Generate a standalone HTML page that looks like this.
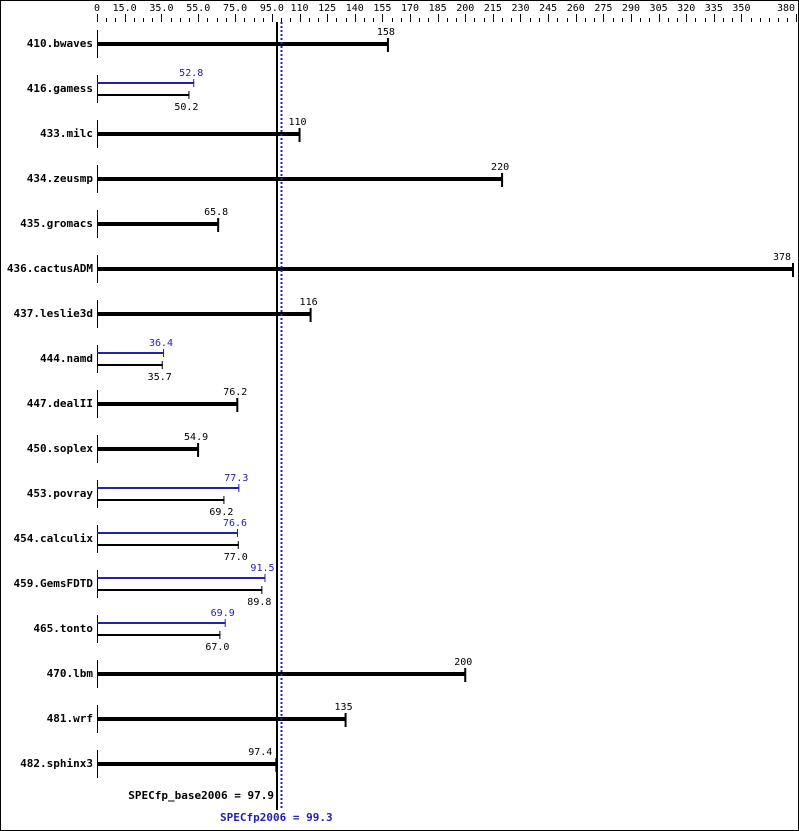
<!DOCTYPE html>
<html><head><meta charset="utf-8"><style>
html,body{margin:0;padding:0;background:#fff}
svg{display:block}
text{font-family:"DejaVu Sans Mono","Liberation Mono",monospace;font-size:10px}
.lab{font-weight:bold;font-size:11px}
</style></head><body>
<svg id="s" width="799" height="831" xmlns="http://www.w3.org/2000/svg">
<rect x="0.5" y="0.5" width="798" height="830" fill="#fff" stroke="#000"/>
</svg>
<script>
const s=document.getElementById('s');const NS='http://www.w3.org/2000/svg';
function el(t,a,txt){const e=document.createElementNS(NS,t);for(const k in a)e.setAttribute(k,a[k]);if(txt!=null)e.textContent=txt;s.appendChild(e);return e;}
const X=v=>97+v*696/378;
for(let v=0;v<=380;v+=5){const x=Math.min(Math.round(X(v)),796)+0.5;el('line',{x1:x,y1:18,x2:x,y2:22,stroke:'#000'});}
const labs=[0,15,35,55,75,95,110,125,140,155,170,185,200,215,230,245,260,275,290,305,320,335,350,380];
labs.forEach(v=>{const x=Math.min(Math.round(X(v)),796)+0.5;el('line',{x1:x,y1:14,x2:x,y2:22,stroke:'#000'});
 const t=v<100?v.toFixed(1):String(v);
 if(v===380) el('text',{x:795,y:11,'text-anchor':'end'},t);
 else el('text',{x:X(v),y:11,'text-anchor':'middle'},v===0?'0':t);});
const rows=[["410.bwaves",158],["416.gamess",50.2,52.8],["433.milc",110],["434.zeusmp",220],["435.gromacs",65.8],["436.cactusADM",378],["437.leslie3d",116],["444.namd",35.7,36.4],["447.dealII",76.2],["450.soplex",54.9],["453.povray",69.2,77.3],["454.calculix",77.0,76.6],["459.GemsFDTD",89.8,91.5],["465.tonto",67.0,69.9],["470.lbm",200],["481.wrf",135],["482.sphinx3",97.4]];
const fmt=v=>v>=100?String(Math.round(v)):v.toFixed(1);
rows.forEach((r,i)=>{const y=43+i*45;
 el('text',{x:93,y:y+4,'text-anchor':'end',class:'lab'},r[0]);
 el('line',{x1:97.5,y1:y-13,x2:97.5,y2:y+15,stroke:'#000'});
 if(r.length===2){const xe=X(r[1]);
  el('rect',{x:97,y:y-1,width:xe-97,height:4,fill:'#000'});
  el('rect',{x:xe-1,y:y-5,width:2,height:14,fill:'#000'});
  if(r[1]>300) el('text',{x:xe-2,y:y-8,'text-anchor':'end'},fmt(r[1]));
  else if(r[1]<100 && r[1]>95) el('text',{x:xe-4,y:y-8,'text-anchor':'end'},fmt(r[1]));
  else el('text',{x:xe-2,y:y-8,'text-anchor':'middle'},fmt(r[1]));
 } else {const xb=X(r[1]),xp=X(r[2]);
  el('rect',{x:97,y:y-6,width:xp-97,height:2,fill:'#2222aa'});
  el('rect',{x:xp-1,y:y-9,width:1,height:8,fill:'#2222aa'});
  el('text',{x:xp-3,y:y-12,'text-anchor':'middle',fill:'#2222aa'},fmt(r[2]));
  el('rect',{x:97,y:y+6,width:xb-97,height:2,fill:'#000'});
  el('rect',{x:xb-1,y:y+3,width:1,height:8,fill:'#000'});
  el('text',{x:xb-3,y:y+22,'text-anchor':'middle'},fmt(r[1]));
 }
});
el('rect',{x:276,y:22,width:2,height:788,fill:'#000'});
el('line',{x1:281.5,y1:22,x2:281.5,y2:808,stroke:'#2222cc','stroke-width':2,'stroke-dasharray':'2,2'});
el('text',{x:274,y:799,'text-anchor':'end',class:'lab'},'SPECfp_base2006 = 97.9');
el('text',{x:220,y:821,class:'lab',fill:'#2222aa'},'SPECfp2006 = 99.3');
</script>
</body></html>
